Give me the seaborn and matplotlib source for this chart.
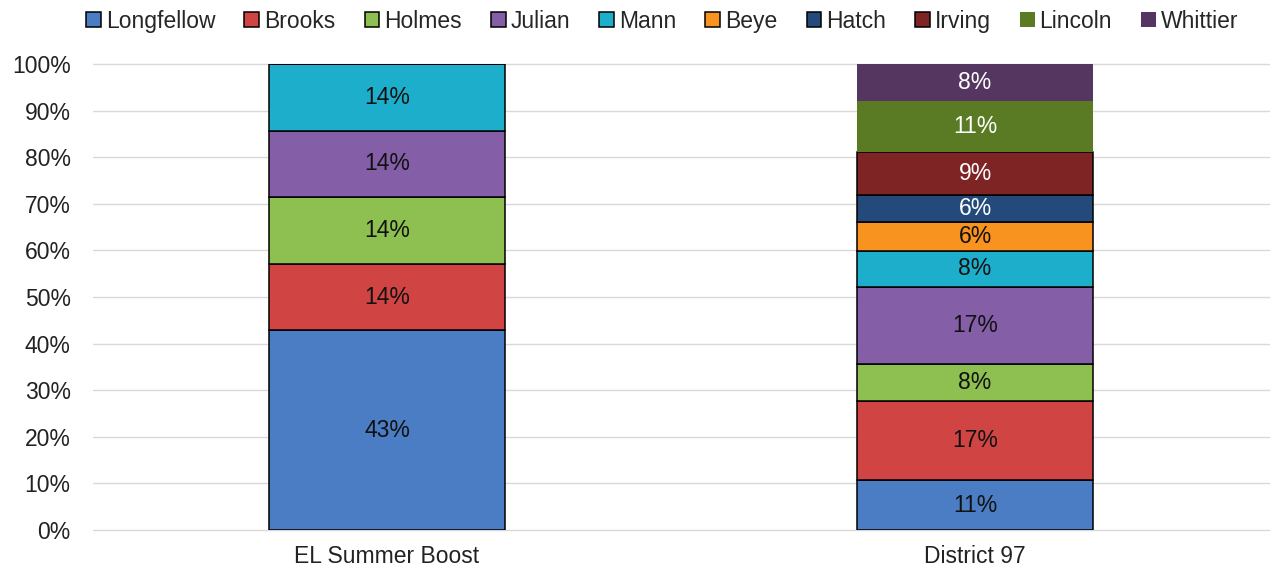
import matplotlib
matplotlib.use('Agg')
import matplotlib.pyplot as plt
from matplotlib.patches import Patch
import numpy as np
import pandas as pd
import seaborn as sns


# Data (percent of students per school)
groups = ['EL Summer Boost', 'District 97']
schools = ['Longfellow', 'Brooks', 'Holmes', 'Julian', 'Mann',
           'Beye', 'Hatch', 'Irving', 'Lincoln', 'Whittier']
summer_boost = [42.8, 14.3, 14.3, 14.3, 14.3, 0, 0, 0, 0, 0]
district_97 = [10.6, 17.1, 7.8, 16.7, 7.6, 6.2, 5.8, 9.4, 10.9, 7.9]

colors = ['#4A7DC4', '#D04544', '#8DC050', '#855EA8', '#1DAECB',
          '#F7931E', '#244A7B', '#7F2424', '#5A7A24', '#553661']
white_text = ['Hatch', 'Irving', 'Lincoln', 'Whittier']
no_edge = ['Lincoln', 'Whittier']

df = pd.DataFrame({'group': np.repeat(groups, len(schools)),
                   'school': schools * 2,
                   'pct': summer_boost + district_97})

sns.set_style('white')
plt.rcParams['font.family'] = ['Liberation Sans', 'DejaVu Sans']
fs = 16.5

fig = plt.figure(figsize=(12.73, 5.71), dpi=100)
ax = fig.add_axes([0.073, 0.072, 0.924, 0.816])

bottom = np.zeros(len(groups))
for school, col in zip(schools, colors):
    sub = df[df['school'] == school].set_index('group').loc[groups]
    vals = sub['pct'].values
    edge = 'none' if school in no_edge else 'black'
    sns.barplot(x=groups, y=vals, bottom=bottom, color=col, width=0.4,
                saturation=1, edgecolor=edge, linewidth=1.1, ax=ax, zorder=3)
    for i, v in enumerate(vals):
        if v > 0:
            ax.text(i, bottom[i] + v / 2, '{:.0f}%'.format(v),
                    ha='center', va='center', fontsize=fs,
                    color='white' if school in white_text else '#111111',
                    zorder=4)
    bottom += vals

ax.set_ylim(0, 100)
ax.set_xlim(-0.5, 1.5)
ax.set_yticks(range(0, 101, 10))
ax.set_yticklabels(['{}%'.format(t) for t in range(0, 101, 10)])
ax.tick_params(axis='both', length=0, labelsize=fs, colors='#222222')
ax.tick_params(axis='y', pad=16)
ax.tick_params(axis='x', pad=11)
ax.yaxis.grid(True, color='#D9D9D9', linewidth=1, zorder=0)
for line in ax.get_ygridlines():
    line.set_clip_on(False)
ax.set_axisbelow(True)
sns.despine(ax=ax, left=True, right=True, top=True, bottom=True)
ax.set_xlabel('')
ax.set_ylabel('')

handles = [Patch(facecolor=c, edgecolor='none' if s in no_edge else 'black',
                 linewidth=1.1, label=s) for s, c in zip(schools, colors)]
ax.legend(handles=handles, ncol=10, loc='center', bbox_to_anchor=(0.484, 1.092),
          frameon=False, fontsize=fs, handlelength=0.65, handleheight=0.65,
          handletextpad=0.2, columnspacing=1.28)

fig.savefig('out.png', dpi=100)
